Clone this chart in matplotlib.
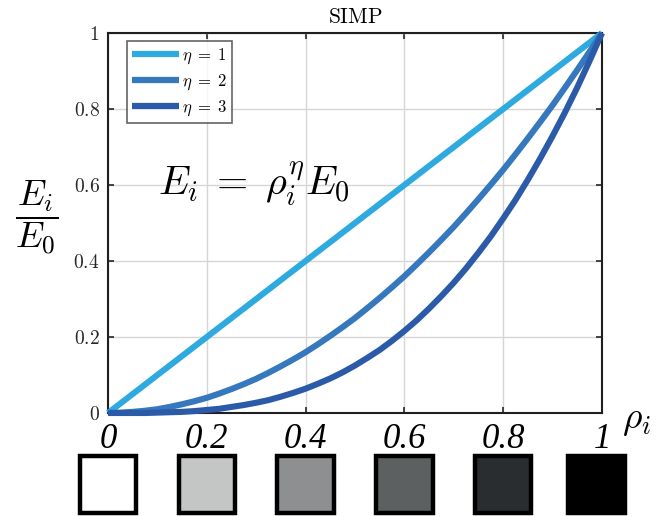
import numpy as np
import matplotlib
matplotlib.use("Agg")
import matplotlib.pyplot as plt
from matplotlib.patches import Rectangle
import matplotlib.transforms as mtransforms

plt.rcParams['mathtext.fontset'] = 'cm'

# ---- data ----
rho = [0.000, 0.025, 0.050, 0.075, 0.100, 0.125, 0.150, 0.175, 0.200, 0.225,
       0.250, 0.275, 0.300, 0.325, 0.350, 0.375, 0.400, 0.425, 0.450, 0.475,
       0.500, 0.525, 0.550, 0.575, 0.600, 0.625, 0.650, 0.675, 0.700, 0.725,
       0.750, 0.775, 0.800, 0.825, 0.850, 0.875, 0.900, 0.925, 0.950, 0.975,
       1.000]
E_eta1 = [0.000, 0.025, 0.050, 0.075, 0.100, 0.125, 0.150, 0.175, 0.200, 0.225,
          0.250, 0.275, 0.300, 0.325, 0.350, 0.375, 0.400, 0.425, 0.450, 0.475,
          0.500, 0.525, 0.550, 0.575, 0.600, 0.625, 0.650, 0.675, 0.700, 0.725,
          0.750, 0.775, 0.800, 0.825, 0.850, 0.875, 0.900, 0.925, 0.950, 0.975,
          1.000]
E_eta2 = [0.000, 0.001, 0.003, 0.006, 0.010, 0.016, 0.023, 0.031, 0.040, 0.051,
          0.063, 0.076, 0.090, 0.106, 0.123, 0.141, 0.160, 0.181, 0.203, 0.226,
          0.250, 0.276, 0.303, 0.331, 0.360, 0.391, 0.423, 0.456, 0.490, 0.526,
          0.563, 0.601, 0.640, 0.681, 0.723, 0.766, 0.810, 0.856, 0.903, 0.951,
          1.000]
E_eta3 = [0.000, 0.000, 0.000, 0.000, 0.001, 0.002, 0.003, 0.005, 0.008, 0.011,
          0.016, 0.021, 0.027, 0.034, 0.043, 0.053, 0.064, 0.077, 0.091, 0.107,
          0.125, 0.145, 0.166, 0.190, 0.216, 0.244, 0.275, 0.308, 0.343, 0.381,
          0.422, 0.465, 0.512, 0.561, 0.614, 0.670, 0.729, 0.791, 0.857, 0.927,
          1.000]
series_labels = [r'$\eta\;=\;1$', r'$\eta\;=\;2$', r'$\eta\;=\;3$']
series_colors = ['#2faae0', '#3578bd', '#2b5ba8']

xticks = [0, 0.2, 0.4, 0.6, 0.8, 1]
xtick_labels = ['0', '0.2', '0.4', '0.6', '0.8', '1']
yticks = [0, 0.2, 0.4, 0.6, 0.8, 1]
ytick_labels = [r'$0$', r'$0.2$', r'$0.4$', r'$0.6$', r'$0.8$', r'$1$']
swatch_grays = ['#ffffff', '#c4c6c5', '#8e8f91', '#5c6061', '#2a2d30', '#000000']

W, H = 660, 516
fig = plt.figure(figsize=(W / 100, H / 100), dpi=100)
fig.patch.set_facecolor('white')

def fx(px):
    return px / W

def fy(py):
    return 1 - py / H

ax = fig.add_axes([fx(108), fy(413), fx(602) - fx(108), fy(33) - fy(413)])

for ys, lab, col in zip([E_eta1, E_eta2, E_eta3], series_labels, series_colors):
    ax.plot(rho, ys, color=col, lw=4.4, label=lab, clip_on=False,
            solid_capstyle='butt', solid_joinstyle='round', zorder=3)

ax.set_xlim(0, 1)
ax.set_ylim(0, 1)
ax.set_xticks(xticks)
ax.set_xticklabels([])
ax.set_yticks(yticks)
ax.set_yticklabels(ytick_labels, fontsize=14)
ax.grid(True, color='#d6d6d6', lw=1.0)
ax.set_axisbelow(True)
ax.tick_params(direction='in', length=4.5, width=1.2, top=True, right=True,
               colors='#262626', pad=6)
for s in ax.spines.values():
    s.set_linewidth(1.5)
    s.set_color('#1f1f1f')

ax.set_title(r'$\mathrm{SIMP}$', fontsize=15.5, pad=7)

leg = ax.legend(loc='upper left', bbox_to_anchor=(fx(127), fy(41)),
                bbox_transform=fig.transFigure, fontsize=12, frameon=True,
                fancybox=False, handlelength=2.8, handletextpad=0.2,
                labelspacing=0.35, borderpad=0.3, borderaxespad=0)
leg.get_frame().set_edgecolor('#3a3f44')
leg.get_frame().set_linewidth(1.2)
for line in leg.get_lines():
    line.set_linewidth(4.5)

# equation
fig.text(fx(158), fy(195), r'$E_i\;=\;\rho_i^{\eta} E_0$', fontsize=29,
         ha='left', va='baseline')
# y label
fig.text(fx(37), fy(218), r'$\dfrac{E_i}{E_0}$', fontsize=26,
         ha='center', va='center')
# x label
fig.text(fx(622), fy(428), r'$\rho_i$', fontsize=27, ha='left', va='baseline')

# large italic x labels and density swatches
trans = mtransforms.blended_transform_factory(ax.transData, fig.transFigure)
sw_w = 56.5 / W
sw_h = 56.5 / H
for xv, lab, g in zip(xticks, xtick_labels, swatch_grays):
    fig.text(xv, fy(448), lab, transform=trans, fontsize=25,
             family='Liberation Serif', style='italic', ha='center',
             va='baseline')
    xpix = ax.transData.transform((xv, 0))[0]
    xc = xpix / fig.bbox.width
    xc = min(max(xc, fx(104.5)), fx(596.5))
    rect = Rectangle((xc - sw_w / 2, fy(512.75)), sw_w, sw_h,
                     transform=fig.transFigure, facecolor=g,
                     edgecolor='black', lw=3.2, clip_on=False)
    fig.add_artist(rect)

fig.savefig('out.png', dpi=100)
